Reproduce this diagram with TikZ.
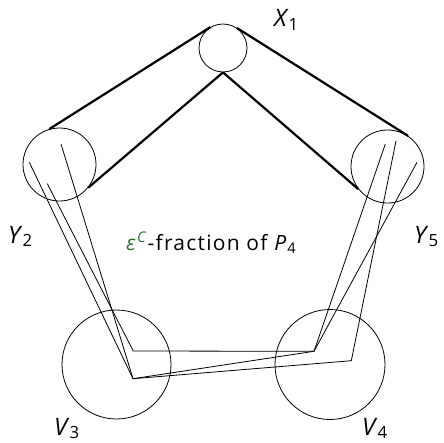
\documentclass[tikz,border=0pt]{standalone}
\usepackage{fontspec}
\setmainfont{Open Sans}
\newfontfamily\widefont[LetterSpace=6]{Open Sans}
\definecolor{epsgreen}{RGB}{46,112,46}
\begin{document}
\begin{tikzpicture}[x=1pt,y=-1pt,
  vset/.style={draw,circle,inner sep=0pt,line width=0.8pt},
  band/.style={line width=2.2pt},
  pth/.style={line width=0.8pt},
  lab/.style={font=\fontsize{24}{28}\selectfont,inner sep=0pt,anchor=base west},
  mid/.style={font=\widefont\fontsize{21}{25}\selectfont,inner sep=0pt,anchor=base west}]
\useasboundingbox (0,0) rectangle (444,442);
\node[vset,minimum size=48pt] (X1) at (223,48) {};
\node[vset,minimum size=73pt] (Y2) at (59.5,164.5) {};
\node[vset,minimum size=73pt] (Y5) at (387.5,166.5) {};
\node[vset,minimum size=109pt] (V3) at (116.5,364.5) {};
\node[vset,minimum size=110pt] (V4) at (330,364.5) {};
\draw[band] (X1.121) -- (Y2.106);
\draw[band] (X1.270) -- (Y2.-39);
\draw[band] (X1.55) -- (Y5.56);
\draw[band] (X1.270) -- (Y5.218);
\coordinate (a1) at (29.3,162.3);
\coordinate (a2) at (47.3,183.7);
\coordinate (a3) at (61,144);
\coordinate (p) at (133.3,351);
\coordinate (q) at (133,378.7);
\coordinate (r) at (314,351.3);
\coordinate (s) at (351.3,360.7);
\coordinate (b1) at (385.3,144);
\coordinate (b2) at (396,141);
\coordinate (b3) at (417,162.3);
\draw[pth] (a2) -- (p) -- (r) -- (b1);
\draw[pth] (a1) -- (q) -- (r) -- (b3);
\draw[pth] (a3) -- (q) -- (s) -- (b2);
\node[lab] (lx) at (274,26.7) {\textit{X}\textsubscript{1}};
\node[lab] (ly2) at (8,243) {\textit{Y}\textsubscript{2}};
\node[lab] (ly5) at (414,243) {\textit{Y}\textsubscript{5}};
\node[lab] (lv3) at (54,435) {\textit{V}\textsubscript{3}};
\node[lab] (lv4) at (362,435) {\textit{V}\textsubscript{4}};
\node[mid] (lf) at (126,250) {{\color{epsgreen}\textit{ε}\textsuperscript{\textit{C}}}-fraction of \textit{P}\textsubscript{4}};
\end{tikzpicture}
\end{document}
